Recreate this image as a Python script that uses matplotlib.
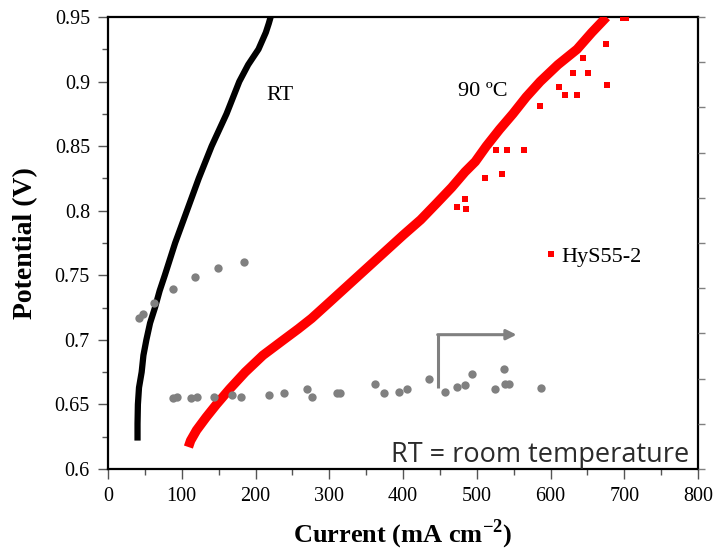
import matplotlib
matplotlib.use("Agg")
import matplotlib.pyplot as plt
from matplotlib.lines import Line2D

plt.rcParams["mathtext.fontset"] = "custom"
plt.rcParams["mathtext.rm"] = "Liberation Serif:bold"

# RT polarisation curve (black)
rt_i = [40, 40, 40.5, 42, 45.6, 48, 52, 57, 63.7, 70, 77, 91, 107, 123, 140.5,
        160.7, 178, 190, 204, 214, 218, 220.5]
rt_v = [0.622, 0.635, 0.65, 0.663, 0.675, 0.688, 0.700, 0.713, 0.725, 0.738, 0.750,
        0.775, 0.800, 0.825, 0.850, 0.875, 0.900, 0.913, 0.925, 0.938, 0.945, 0.950]

# 90 C polarisation curve (red)
hot_i = [109, 112, 120, 133, 147, 165, 186, 210, 238, 258, 276, 300, 325, 350, 375,
         400, 424, 446, 466, 484, 498, 513, 531, 549, 567, 586, 610, 636, 656, 676]
hot_v = [0.617, 0.622, 0.630, 0.640, 0.650, 0.662, 0.675, 0.688, 0.700, 0.7085,
         0.7166, 0.729, 0.742, 0.755, 0.768, 0.781, 0.793, 0.806, 0.818, 0.830,
         0.838, 0.850, 0.863, 0.875, 0.888, 0.900, 0.913, 0.925, 0.938, 0.950]

# stray 90 C points
out_i = [675, 644.5, 630, 650.4, 676.6, 619.7, 635.9, 611.5, 585.8, 541.4, 564.6,
         534.7, 511, 484, 473.7, 485, 703, 698, 526]
out_v = [0.9288, 0.918, 0.9069, 0.907, 0.897, 0.8898, 0.8898, 0.896, 0.881, 0.847,
         0.847, 0.8284, 0.825, 0.809, 0.8026, 0.8015, 0.949, 0.949, 0.847]

# grey points, upper row (near RT curve)
grey_up_i = [42, 47.9, 62.4, 87.7, 118, 148.7, 184]
grey_up_v = [0.717, 0.7197, 0.7285, 0.739, 0.749, 0.756, 0.760]

# grey points, lower row
grey_lo_i = [88.6, 94, 112, 121, 143.7, 168.5, 179.8, 218, 238, 270, 276, 311, 315,
             362, 374.7, 394.6, 405, 435, 457, 472.8, 484, 494, 525, 536.5, 538.7,
             543.7, 587]
grey_lo_v = [0.6546, 0.6555, 0.6546, 0.656, 0.656, 0.657, 0.656, 0.657, 0.659, 0.6616,
             0.656, 0.659, 0.659, 0.6657, 0.6585, 0.6593, 0.6618, 0.6694, 0.6595,
             0.6634, 0.6652, 0.6735, 0.6616, 0.6774, 0.666, 0.666, 0.6624]

# grey bent arrow
arrow_x = [448, 448, 554]
arrow_y = [0.6626, 0.704, 0.704]

serif = "Liberation Serif"
grey = "#808080"

fig = plt.figure(figsize=(7.14, 5.53), dpi=100)
ax = fig.add_axes([0.1513, 0.1519, 0.8263, 0.8174])

ax.plot(rt_i, rt_v, color="black", lw=4.5, solid_capstyle="butt", zorder=3)
ax.plot(hot_i, hot_v, color="red", lw=6.8, solid_capstyle="butt", zorder=3)
ax.plot(out_i, out_v, "s", color="red", ms=4.5, mew=0, zorder=3)

ax.plot(grey_up_i, grey_up_v, "o", color=grey, ms=6, mew=0, zorder=4)
ax.plot(grey_lo_i, grey_lo_v, "o", color=grey, ms=6, mew=0, zorder=4)

ax.plot(arrow_x[:2], arrow_y[:2], color=grey, lw=2.2, solid_capstyle="butt")
ax.annotate("", xy=(arrow_x[2], arrow_y[2]), xytext=(arrow_x[1] - 1, arrow_y[1]),
            arrowprops=dict(arrowstyle="-|>,head_length=0.6,head_width=0.3",
                            color=grey, lw=2.2, shrinkA=0, shrinkB=0))

ax.set_xlim(0, 800)
ax.set_ylim(0.6, 0.95)
ax.set_xticks(range(0, 801, 100))
ax.set_xticks(range(50, 800, 100), minor=True)
ax.set_yticks([0.6, 0.65, 0.7, 0.75, 0.8, 0.85, 0.9, 0.95])
ax.set_yticklabels(["0.6", "0.65", "0.7", "0.75", "0.8", "0.85", "0.9", "0.95"])
ax.set_yticks([0.625, 0.675, 0.725, 0.775, 0.825, 0.875, 0.925], minor=True)
ax.tick_params(which="major", direction="out", length=7, width=1, color="#555555",
               labelsize=14.5, pad=6)
ax.tick_params(which="minor", direction="out", length=4, width=1, color="#555555")
for lab in ax.get_xticklabels() + ax.get_yticklabels():
    lab.set_family(serif)
for s in ax.spines.values():
    s.set_linewidth(1.6)
    s.set_color("black")

ax2 = ax.twinx()
ax2.set_ylim(0, 10)
ax2.set_yticks(range(0, 11))
ax2.set_yticklabels([])
ax2.tick_params(axis="y", direction="out", length=5, width=1, color=grey)
for s in ax2.spines.values():
    s.set_visible(False)

ax.set_xlabel("Current (mA cm$^{\\mathregular{-2}}$)", family=serif, fontweight="bold",
              fontsize=19, labelpad=8)
ax.set_ylabel("Potential (V)", family=serif, fontweight="bold", fontsize=20, labelpad=12)

ax.text(233, 0.889, "RT", family=serif, fontsize=16, ha="center", va="center")
ax.text(508, 0.892, "90 ºC", family=serif, fontsize=16, ha="center", va="center")
ax.text(0.985, 0.0, "RT = room temperature", transform=ax.transAxes, family="Open Sans",
        fontsize=19.5, color="#2b2b2b", ha="right", va="bottom")

handle = Line2D([], [], marker="s", color="red", ls="none", ms=5, mew=0)
leg = ax.legend([handle], ["HyS55-2"], loc="center left", bbox_to_anchor=(0.739, 0.47),
                frameon=False, handlelength=0.6, handletextpad=0.2, borderaxespad=0,
                borderpad=0, prop={"family": serif, "size": 16})

fig.savefig("out.png", dpi=100)
